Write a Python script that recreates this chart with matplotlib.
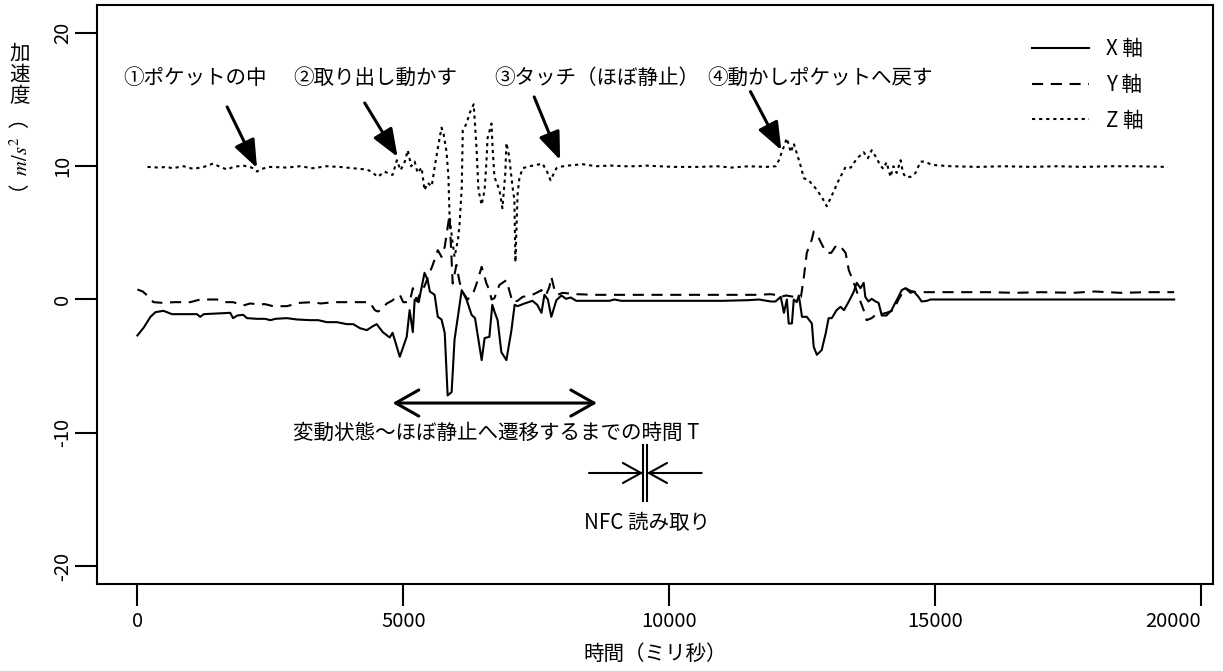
import matplotlib
matplotlib.use("Agg")
import matplotlib.pyplot as plt

plt.rcParams['font.family'] = ['Noto Sans CJK JP', 'DejaVu Sans']
plt.rcParams['axes.unicode_minus'] = False
plt.rcParams['mathtext.fontset'] = 'stix'
plt.rcParams['lines.scale_dashes'] = False

# ---------------- data (time in ms, acceleration in m/s^2) ----------------
x_t = [0, 120, 245, 340, 490, 650, 900, 1120, 1180, 1250, 1500, 1745, 1800, 1880, 1990,
       2060, 2250, 2400, 2500, 2600, 2810, 3000, 3245, 3400, 3560, 3750, 3940, 4060, 4185,
       4315, 4430, 4500, 4615, 4745, 4800, 4935, 5065, 5120, 5180, 5215, 5290, 5400, 5460,
       5500, 5590, 5650, 5720, 5780, 5835, 5910, 5965, 6100, 6190, 6285, 6350, 6475, 6530,
       6620, 6675, 6715, 6775, 6845, 6940, 7035, 7095, 7150, 7280, 7430, 7520, 7600, 7655,
       7720, 7785, 7880, 7975, 8060, 8150, 8255, 8500, 8875, 8970, 9100, 9500, 10000, 10500,
       11000, 11500, 11690, 11915, 12000, 12100, 12160, 12215, 12250, 12310, 12345, 12400,
       12440, 12480, 12500, 12590, 12685, 12720, 12780, 12870, 12945, 13000, 13060, 13150,
       13225, 13290, 13380, 13470, 13530, 13600, 13660, 13690, 13750, 13810, 13885, 13940,
       14000, 14090, 14185, 14260, 14315, 14375, 14445, 14540, 14600, 14690, 14750, 14850,
       14915, 15440, 16000, 17000, 18000, 19000, 19500]
x_v = [-2.7, -2.1, -1.3, -0.95, -0.85, -1.1, -1.1, -1.1, -1.3, -1.1, -1.05, -1.0, -1.4, -1.2, -1.15,
       -1.4, -1.45, -1.45, -1.55, -1.45, -1.4, -1.5, -1.55, -1.55, -1.7, -1.7, -1.85, -1.85, -2.15,
       -2.3, -2.0, -1.85, -2.45, -2.85, -2.5, -4.3, -2.8, -0.8, -2.45, 0.0, -0.2, 2.0, 1.45,
       0.6, 0.35, -1.3, -1.5, -2.5, -7.2, -6.95, -3.0, 0.7, 0.0, -1.15, -1.4, -4.55, -2.9,
       -2.8, -0.4, -0.9, -1.55, -3.95, -4.55, -2.3, -0.4, -0.5, -0.3, -0.1, -0.4, -1.0, 0.35,
       0.0, -1.3, -0.05, 0.3, 0.05, 0.15, -0.1, -0.1, -0.1, 0.0, -0.1, -0.1, -0.1, -0.1,
       -0.1, -0.05, 0.0, -0.15, -0.15, 0.2, -1.0, 0.0, -1.8, -1.8, 0.0, -0.2,
       0.3, -0.8, -1.3, -1.3, -1.8, -3.55, -4.15, -3.8, -2.55, -1.4, -1.4, -0.8,
       -0.55, -0.8, -0.15, 0.55, 1.25, 0.85, 1.25, 0.2, -0.15, 0.05, -0.15, -0.25,
       -1.2, -1.2, -0.8, -0.2, 0.2, 0.7, 0.85, 0.5, 0.6, 0.2, -0.15, -0.1,
       0.0, 0.0, 0.0, 0.0, 0.0, 0.0, 0.0]

y_t = [0, 100, 245, 300, 470, 700, 995, 1180, 1500, 1615, 1800, 1990, 2120, 2250, 2400, 2550,
       2810, 3060, 3300, 3450, 3680, 4000, 4370, 4465, 4520, 4580, 4690, 4785, 4935, 5000,
       5120, 5180, 5260, 5345, 5400, 5555, 5650, 5720, 5780, 5870, 5930, 6000, 6060, 6120,
       6210, 6305, 6380, 6475, 6565, 6620, 6660, 6715, 6810, 6940, 7000, 7055, 7150, 7245,
       7400, 7505, 7600, 7680, 7750, 7785, 7840, 7900, 7995, 8255, 8600, 9000, 9500, 10000,
       10500, 11000, 11500, 11690, 11900, 12000, 12100, 12200, 12350, 12480, 12535, 12590,
       12685, 12720, 12815, 12910, 12965, 13050, 13150, 13240, 13320, 13380, 13470, 13565,
       13660, 13715, 13810, 13885, 13990, 14090, 14220, 14315, 14445, 14540, 14635, 15440,
       16000, 16500, 17000, 17600, 18000, 18500, 19000, 19500]
y_v = [0.75, 0.6, 0.1, -0.2, -0.25, -0.2, -0.2, 0.0, 0.0, -0.2, -0.2, -0.45, -0.3, -0.35, -0.35, -0.5,
       -0.5, -0.25, -0.2, -0.3, -0.2, -0.2, -0.2, -0.8, -0.9, -0.8, -0.3, -0.1, 0.35, -0.2,
       -0.2, 0.85, -0.1, 0.7, 1.0, 2.6, 3.7, 3.2, 3.95, 6.35, 1.2, 2.6, 1.3, 0.55,
       0.0, 0.35, 1.2, 2.45, 1.2, 0.7, 0.0, 0.1, 1.1, 1.45, 0.6, -0.2, -0.1, 0.2,
       0.3, 0.5, 0.7, 0.3, 0.95, 1.7, 0.8, 0.35, 0.5, 0.4, 0.35, 0.35, 0.35, 0.35,
       0.35, 0.35, 0.35, 0.35, 0.4, 0.35, 0.2, 0.3, 0.2, 0.2, 1.7, 3.5,
       4.5, 5.1, 4.6, 3.85, 3.5, 3.5, 4.1, 3.9, 3.5, 2.2, 1.3, 0.2,
       -0.8, -1.55, -1.4, -1.15, -1.1, -1.0, -0.8, 0.0, 0.85, 0.65, 0.55, 0.55,
       0.55, 0.5, 0.55, 0.5, 0.6, 0.5, 0.55, 0.55]

z_t = [190, 400, 560, 650, 870, 1050, 1250, 1425, 1555, 1690, 1800, 1990, 2150, 2250, 2330,
       2500, 2810, 3060, 3300, 3550, 3800, 4050, 4185, 4315, 4400, 4520, 4650, 4750, 4800,
       4880, 4950, 5030, 5085, 5150, 5215, 5270, 5345, 5400, 5460, 5535, 5590, 5650, 5720,
       5760, 5815, 5850, 5870, 5920, 5965, 6030, 6060, 6100, 6120, 6190, 6250, 6325, 6380,
       6415, 6475, 6530, 6565, 6585, 6660, 6680, 6715, 6810, 6865, 6920, 6940, 6990, 7055,
       7090, 7110, 7150, 7185, 7245, 7375, 7505, 7620, 7710, 7770, 7880, 7935, 8100, 8370,
       8630, 8900, 9150, 9400, 9570, 9800, 10100, 10565, 10900, 11180, 11500, 11820, 12005,
       12065, 12120, 12215, 12290, 12345, 12400, 12480, 12535, 12625, 12755, 12870, 12965,
       13060, 13190, 13320, 13420, 13510, 13565, 13660, 13740, 13810, 13890, 13975, 14030,
       14090, 14165, 14220, 14280, 14355, 14400, 14445, 14540, 14635, 14730, 14820, 14935,
       15300, 15800, 16300, 16800, 17300, 17800, 18300, 18800, 19380]
z_v = [9.95, 9.9, 9.95, 9.85, 10.0, 9.8, 9.95, 10.2, 9.95, 9.75, 9.95, 10.05, 9.9, 9.6, 9.8,
       9.95, 9.9, 10.0, 9.85, 10.0, 9.95, 9.85, 9.8, 9.75, 9.6, 9.2, 9.6, 9.4, 9.35,
       10.45, 9.7, 10.35, 11.2, 10.0, 10.35, 9.5, 9.9, 8.2, 8.75, 8.5, 9.9, 11.35, 12.9,
       12.4, 11.05, 9.2, 6.35, 4.5, 3.2, 4.5, 5.7, 8.4, 12.7, 13.2, 14.0, 14.65, 11.2,
       8.2, 7.1, 8.2, 10.35, 12.1, 13.2, 11.4, 9.2, 8.2, 6.85, 9.5, 11.75, 10.8, 8.45,
       7.5, 2.8, 7.9, 9.1, 9.85, 10.0, 10.1, 10.2, 9.55, 8.95, 9.85, 9.95, 10.05, 10.15,
       10.0, 10.05, 10.0, 10.0, 10.05, 10.0, 9.95, 9.95, 10.0, 9.9, 10.0, 9.95, 10.0,
       10.45, 11.05, 12.1, 11.05, 11.7, 11.0, 9.95, 9.1, 8.95, 8.35, 7.7, 7.0,
       7.8, 8.95, 9.95, 9.9, 10.45, 10.7, 11.05, 10.6, 11.2, 10.7, 10.05, 9.8,
       10.3, 9.2, 10.0, 9.5, 10.45, 9.5, 9.2, 9.2, 9.5, 10.35, 10.35, 10.1,
       10.0, 9.95, 10.0, 9.95, 10.0, 9.95, 10.0, 10.0, 9.95]

x_ticks = [0, 5000, 10000, 15000, 20000]
y_ticks = [-20, -10, 0, 10, 20]
series_labels = ['X 軸', 'Y 軸', 'Z 軸']

phase_labels = ['①ポケットの中', '②取り出し動かす', '③タッチ（ほぼ静止）', '④動かしポケットへ戻す']
phase_label_t = [1088, 4480, 8640, 12844]
phase_arrow_from = [(1688, 14.45), (4275, 14.75), (7463, 15.2), (11531, 15.6)]
phase_arrow_to = [(2250, 9.87), (4894, 10.7), (7950, 10.47), (12112, 11.2)]

span_t = (4800, 8644)
nfc_t = (9512, 9581)

# ---------------- figure ----------------
fig = plt.figure(figsize=(12.23, 6.71), dpi=100)
ax = fig.add_axes([97 / 1223, 87 / 671, (1213 - 97) / 1223, (584 - 5) / 671])

lw = 1.5
ax.plot(x_t, x_v, color='black', lw=lw, linestyle='-', label=series_labels[0])
ax.plot(y_t, y_v, color='black', lw=lw, linestyle=(0, (8, 5.5)), label=series_labels[1])
ax.plot(z_t, z_v, color='black', lw=lw, linestyle=(0, (2.3, 2.8)), label=series_labels[2])

ax.set_xlim(-760, 20230)
ax.set_ylim(-21.35, 22.1)
ax.set_xticks(x_ticks)
ax.set_xticklabels([str(v) for v in x_ticks], fontsize=14.5)
ax.get_xticklabels()[-1].set_horizontalalignment('right')
ax.set_yticks(y_ticks)
ax.set_yticklabels([str(v) for v in y_ticks], fontsize=14.5, rotation=90, va='center')
ax.tick_params(axis='both', direction='out', length=16, width=1.5, color='black')
ax.tick_params(axis='x', pad=3.5)
ax.tick_params(axis='y', pad=1)
for s in ax.spines.values():
    s.set_linewidth(1.5)
    s.set_color('black')

fs = 14.8
# phase labels and arrows
for lab, tx, p0, p1 in zip(phase_labels, phase_label_t, phase_arrow_from, phase_arrow_to):
    ax.text(tx, 16.6, lab, ha='center', va='center', fontsize=fs)
    ax.annotate('', xy=p1, xytext=p0,
                arrowprops=dict(arrowstyle='-|>,head_length=0.85,head_width=0.33',
                                mutation_scale=20, lw=2.2, color='black',
                                shrinkA=0, shrinkB=0))

# transition span
ax.annotate('', xy=(span_t[1], -7.77), xytext=(span_t[0], -7.77),
            arrowprops=dict(arrowstyle='<->,head_length=0.83,head_width=0.47',
                            mutation_scale=20, lw=2.2, color='black',
                            shrinkA=0, shrinkB=0))
ax.text(6750, -10.0, '変動状態～ほぼ静止へ遷移するまでの時間 T', ha='center', va='center', fontsize=fs)

# NFC read marker
for tv in nfc_t:
    ax.plot([tv, tv], [-10.9, -15.1], color='black', lw=1.5)
ax.annotate('', xy=(nfc_t[0], -13.02), xytext=(8494, -13.02),
            arrowprops=dict(arrowstyle='->,head_length=0.65,head_width=0.36',
                            mutation_scale=20, lw=1.5, color='black', shrinkA=0, shrinkB=0))
ax.annotate('', xy=(nfc_t[1], -13.02), xytext=(10613, -13.02),
            arrowprops=dict(arrowstyle='->,head_length=0.65,head_width=0.36',
                            mutation_scale=20, lw=1.5, color='black', shrinkA=0, shrinkB=0))
ax.text(9581, -16.8, 'NFC 読み取り', ha='center', va='center', fontsize=fs)

# legend
leg = ax.legend(loc='upper left', bbox_to_anchor=((1032 - 97) / 1116, (584 - 38) / 579),
                frameon=False, fontsize=fs, handlelength=2.75, handletextpad=0.85,
                labelspacing=0.67, borderpad=0, borderaxespad=0)

# axis labels
fig.text(655 / 1223, 1 - 654 / 671, '時間（ミリ秒）', ha='center', va='center', fontsize=fs)
fig.text(20 / 1223, 1 - 75 / 671, '加\n速\n度', ha='center', va='center', fontsize=fs,
         linespacing=0.95)
fig.text(20 / 1223, 1 - 162 / 671, '（  $m/s^2$  ）', ha='center', va='center', fontsize=fs,
         rotation=90)

fig.savefig('out.png', dpi=100)
